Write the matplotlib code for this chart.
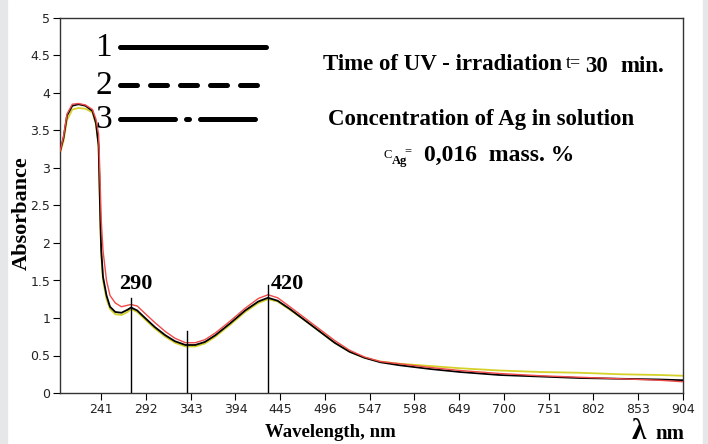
import numpy as np
import matplotlib.pyplot as plt
from matplotlib.lines import Line2D

# wavelength grid (nm)
wl = [194, 198, 202, 208, 215, 223, 231, 235, 238, 239, 240, 241, 243, 247, 251,
      257, 264, 271, 275, 282, 291, 302, 314, 325, 337, 348, 359, 371, 388, 405,
      420, 431, 442, 456, 473, 490, 507, 524, 541, 559, 581, 616, 650, 695, 741,
      786, 832, 877, 904]

# curve 1 (black)
abs_1 = [3.22, 3.40, 3.70, 3.83, 3.85, 3.83, 3.76, 3.60, 3.30, 2.80, 2.30, 1.90, 1.55, 1.30, 1.15,
         1.08, 1.07, 1.11, 1.14, 1.10, 1.00, 0.88, 0.77, 0.69, 0.64, 0.64, 0.68, 0.77, 0.93, 1.10,
         1.22, 1.27, 1.23, 1.12, 0.97, 0.82, 0.67, 0.55, 0.47, 0.41, 0.37, 0.32, 0.28, 0.24, 0.22,
         0.20, 0.19, 0.18, 0.17]
# curve 2 (red)
abs_2 = [3.22, 3.42, 3.72, 3.85, 3.86, 3.84, 3.78, 3.65, 3.45, 3.10, 2.70, 2.30, 1.90, 1.50, 1.30,
         1.20, 1.15, 1.17, 1.18, 1.16, 1.06, 0.94, 0.82, 0.73, 0.67, 0.67, 0.71, 0.80, 0.96, 1.13,
         1.26, 1.31, 1.27, 1.15, 1.00, 0.85, 0.70, 0.57, 0.48, 0.42, 0.39, 0.34, 0.30, 0.26, 0.23,
         0.21, 0.19, 0.17, 0.15]
# curve 3 (yellow)
abs_3 = [3.20, 3.36, 3.64, 3.78, 3.80, 3.79, 3.74, 3.58, 3.28, 2.75, 2.25, 1.85, 1.50, 1.25, 1.12,
         1.05, 1.04, 1.08, 1.12, 1.08, 0.98, 0.86, 0.75, 0.67, 0.62, 0.62, 0.66, 0.75, 0.91, 1.08,
         1.20, 1.25, 1.22, 1.11, 0.97, 0.82, 0.67, 0.55, 0.47, 0.42, 0.39, 0.36, 0.33, 0.30, 0.28,
         0.27, 0.25, 0.24, 0.23]

# marker lines: (wavelength on axis, height)
mark_x = [275, 339, 431]
mark_h = [1.27, 0.83, 1.44]

xticks = [241, 292, 343, 394, 445, 496, 547, 598, 649, 700, 751, 802, 853, 904]
yticks = [0, 0.5, 1, 1.5, 2, 2.5, 3, 3.5, 4, 4.5, 5]
ytick_labels = ['0', '0.5', '1', '1.5', '2', '2.5', '3', '3.5', '4', '4.5', '5']

serif = 'Liberation Serif'

fig = plt.figure(figsize=(7.08, 4.44), dpi=100)
# light grey strips at the left and right edge
fig.patches.append(plt.Rectangle((0, 0), 7 / 708, 1, transform=fig.transFigure,
                                 color='#e6e7e9', zorder=0))
fig.patches.append(plt.Rectangle((703 / 708, 0), 5 / 708, 1, transform=fig.transFigure,
                                 color='#e6e7e9', zorder=0))

ax = fig.add_axes([60 / 708, 51 / 444, 623 / 708, 375 / 444])
ax.plot(wl, abs_1, color='black', lw=1.3, zorder=3)
ax.plot(wl, abs_3, color='#d4d22a', lw=1.3, zorder=2)
ax.plot(wl, abs_2, color='#f04a4a', lw=1.0, zorder=4)

for x, h in zip(mark_x, mark_h):
    ax.plot([x, x], [0, h], color='black', lw=1.0, zorder=5)

ax.set_xlim(194, 904)
ax.set_ylim(0, 5)
ax.set_xticks(xticks)
ax.set_xticklabels([str(t) for t in xticks], family=['Liberation Sans Narrow', 'DejaVu Sans'],
                   fontsize=9, color='#222222')
ax.set_yticks(yticks)
ax.set_yticklabels(ytick_labels, family=['Liberation Sans Narrow', 'DejaVu Sans'],
                   fontsize=9, color='#222222')
ax.tick_params(direction='out', length=5, width=0.8, pad=2)
for s in ax.spines.values():
    s.set_linewidth(1.0)
    s.set_color('#333333')

fig.text(22 / 708, 1 - 213 / 444, 'Absorbance', family=serif, fontweight='bold',
         fontsize=16, rotation=90, ha='center', va='center')
fig.text(330 / 708, 1 - 432 / 444, 'Wavelength, nm', family=serif, fontweight='bold',
         fontsize=13.5, ha='center', va='center')
fig.text(632 / 708, 1 - 439 / 444, 'λ', family=serif, fontweight='bold',
         fontsize=21, ha='left', va='baseline')
fig.text(655 / 708, 1 - 439 / 444, 'nm', family=serif, fontweight='bold',
         fontsize=15, ha='left', va='baseline')

# peak labels
fig.text(119 / 708, 1 - 284 / 444, '290', family=serif, fontweight='bold', fontsize=16,
         ha='left', va='center')
fig.text(271 / 708, 1 - 284 / 444, '420', family=serif, fontweight='bold', fontsize=16,
         ha='left', va='center')

# hand-drawn legend
leg_y = [47, 85, 119]
leg_lab = ['1', '2', '3']
leg_ls = ['-', (0, (3.4, 2.6)), (0, (11, 2.2, 0.6, 2.2))]
for y, lab, ls in zip(leg_y, leg_lab, leg_ls):
    fig.text(112 / 708, 1 - (y + 1) / 444, lab, family=serif, fontsize=24,
             ha='right', va='center')
    fig.add_artist(Line2D([120 / 708, 266 / 708], [1 - y / 444, 1 - y / 444],
                          transform=fig.transFigure, color='black', lw=3.6,
                          ls=ls, solid_capstyle='round', dash_capstyle='round'))

# annotation text
fig.text(323 / 708, 1 - 65 / 444, 'Time of UV - irradiation', family=serif,
         fontweight='bold', fontsize=16.5, ha='left', va='center')
fig.text(566 / 708, 1 - 64 / 444, 't=', family=serif, fontsize=13, ha='left', va='center')
fig.text(585 / 708, 1 - 66 / 444, '30', family=serif, fontweight='bold',
         fontsize=16.5, ha='left', va='center')
fig.text(620 / 708, 1 - 66 / 444, 'min.', family=serif, fontweight='bold',
         fontsize=16.5, ha='left', va='center')
fig.text(328 / 708, 1 - 120 / 444, 'Concentration of Ag in solution', family=serif,
         fontweight='bold', fontsize=16.5, ha='left', va='center')
fig.text(384 / 708, 1 - 155 / 444, 'C', family=serif, fontsize=9, ha='left', va='center')
fig.text(392 / 708, 1 - 161 / 444, 'Ag', family=serif, fontweight='bold', fontsize=9,
         ha='left', va='center')
fig.text(404 / 708, 1 - 151 / 444, '=', family=serif, fontsize=9, ha='left', va='center')
fig.text(424 / 708, 1 - 155 / 444, '0,016  mass. %', family=serif, fontweight='bold',
         fontsize=17, ha='left', va='center')

fig.savefig('out.png', dpi=100)
